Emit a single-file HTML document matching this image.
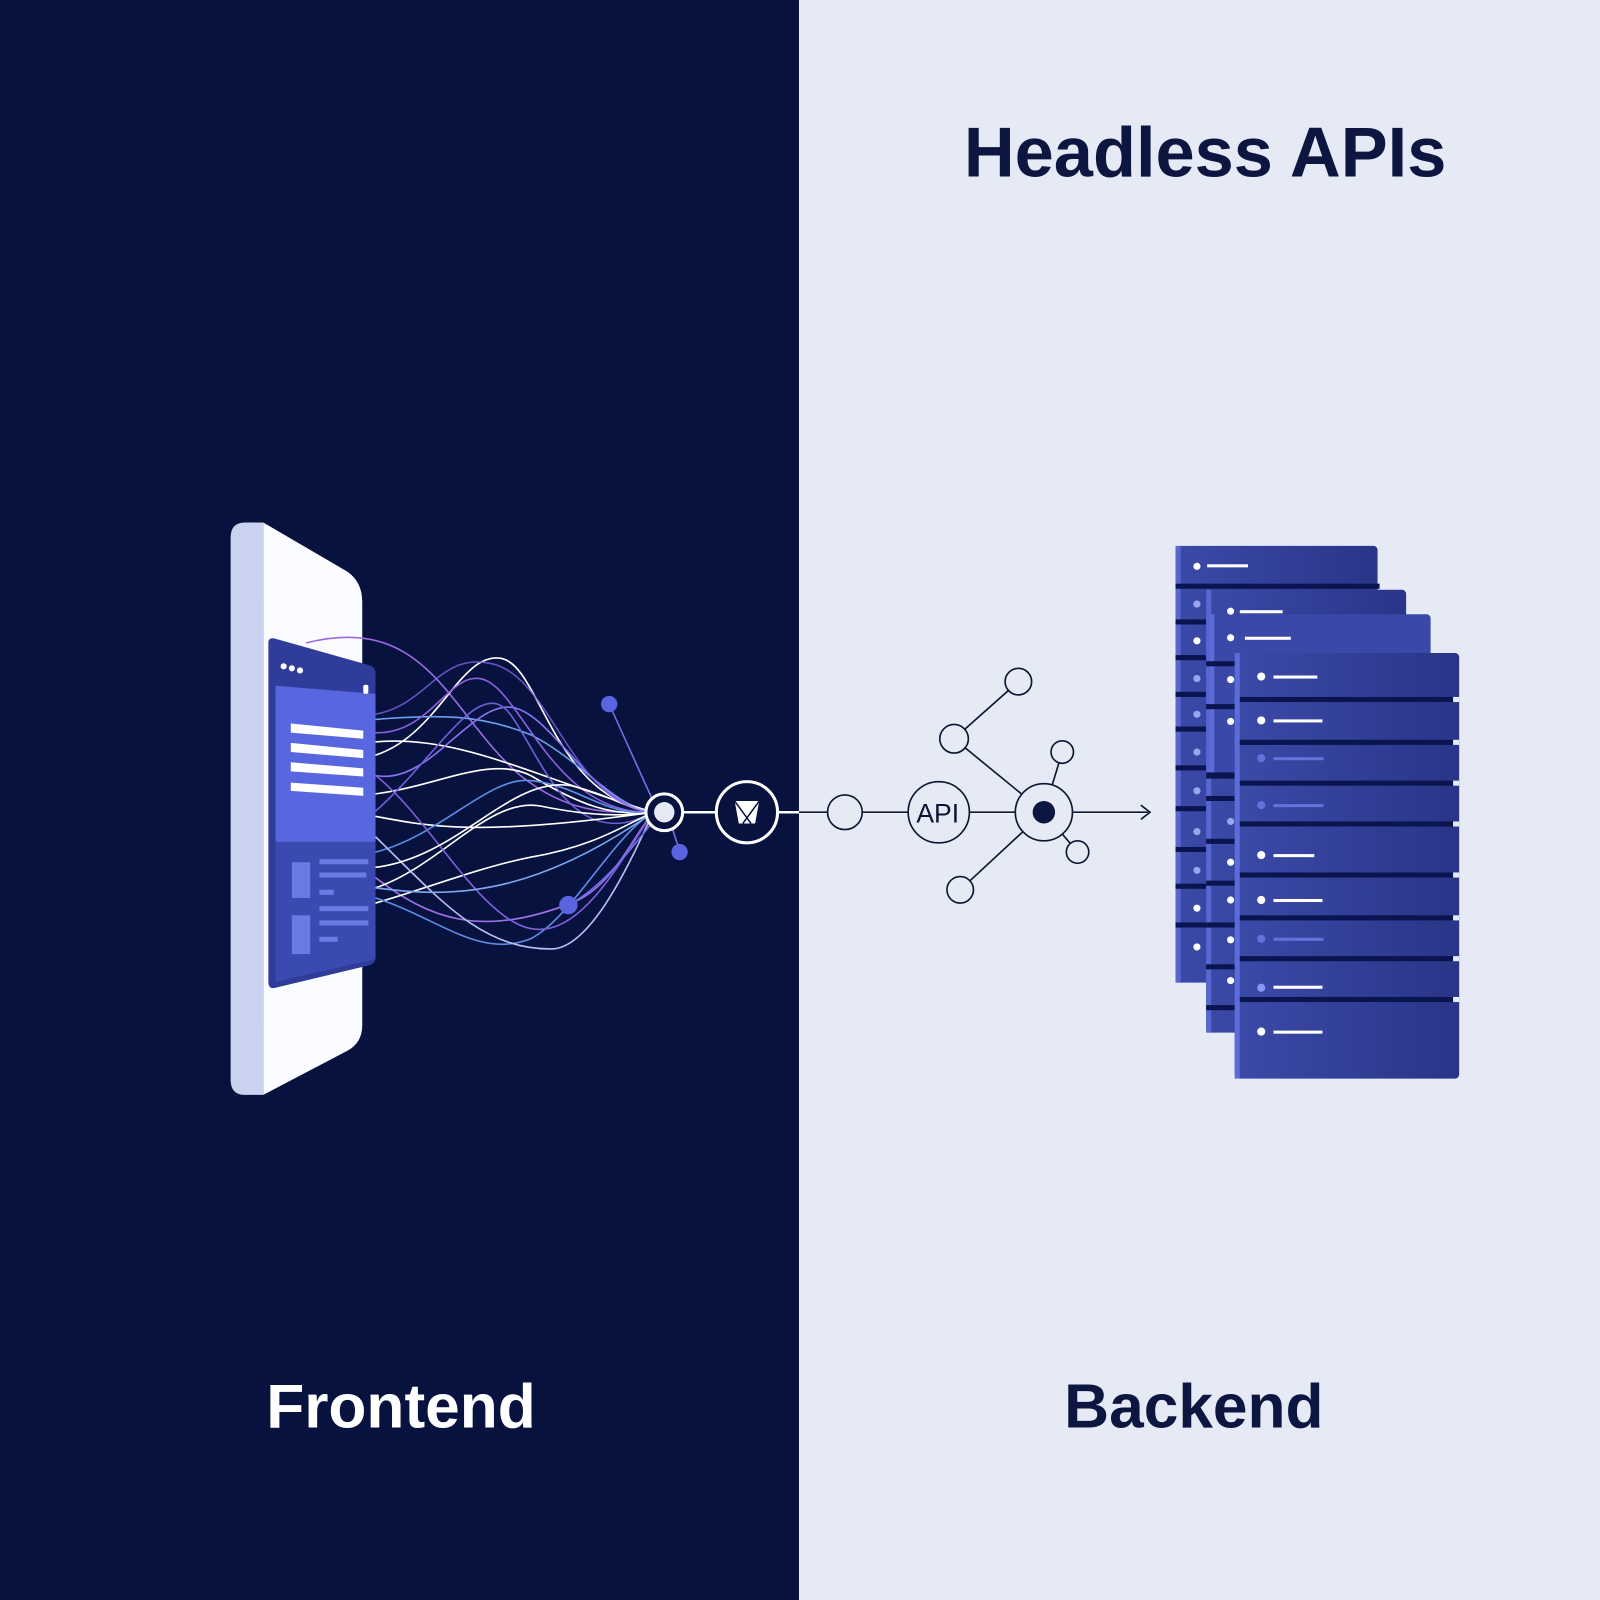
<!DOCTYPE html>
<html><head><meta charset="utf-8"><style>
html,body{margin:0;padding:0;width:1600px;height:1600px;overflow:hidden;background:#e6ebf5}
svg{display:block}
</style></head><body>
<svg width="1600" height="1600" viewBox="0 0 1568 1568" xmlns="http://www.w3.org/2000/svg">
<rect x="0" y="0" width="783" height="1568" fill="#07123f"/>
<rect x="783" y="0" width="785" height="1568" fill="#e5eaf5"/>
<text x="1181" y="173" text-anchor="middle" font-family="Liberation Sans, sans-serif" font-weight="bold" font-size="69" fill="#0d1640">Headless APIs</text>
<text x="393" y="1399" text-anchor="middle" font-family="Liberation Sans, sans-serif" font-weight="bold" font-size="61" fill="#ffffff">Frontend</text>
<text x="1170" y="1399" text-anchor="middle" font-family="Liberation Sans, sans-serif" font-weight="bold" font-size="61" fill="#0d1640">Backend</text>

<!-- phone -->
<path d="M240 512 L258 512 L258 1073 L240 1073 Q226 1073 226 1058 L226 527 Q226 512 240 512Z" fill="#c9d2ee"/>
<path d="M258 512 L340 560 Q355 570 355 590 L355 1005 Q355 1022 340 1030 L258 1073Z" fill="#fbfcff"/>
<path d="M263 630 Q263 624 270 626 L362 652 Q368 654 368 660 L368 938 Q368 944 362 946 L270 968 Q263 970 263 962Z" fill="#2f3c99"/>
<path d="M270 672 L368 680 L368 825 L270 825Z" fill="#5867df"/>
<path d="M270 825 L368 825 L368 940 L270 962Z" fill="#3b4ab0"/>
<circle cx="278" cy="653" r="3" fill="#fff"/><circle cx="286" cy="655" r="3" fill="#fff"/><circle cx="294" cy="657" r="3" fill="#fff"/>
<rect x="356" y="671" width="5" height="9" rx="2" fill="#fff"/>
<g fill="#fff"><path d="M285 709 L356 716 L356 724 L285 718Z"/><path d="M285 728 L356 735 L356 743 L285 737Z"/><path d="M285 747 L356 753 L356 761 L285 756Z"/><path d="M285 767 L356 772 L356 780 L285 775Z"/></g>
<g fill="#6b7be6"><rect x="286" y="845" width="18" height="35"/><rect x="286" y="897" width="18" height="38"/>
<rect x="313" y="842" width="48" height="5"/><rect x="313" y="855" width="46" height="5"/><rect x="313" y="872" width="14" height="5"/>
<rect x="313" y="888" width="48" height="5"/><rect x="313" y="902" width="48" height="5"/><rect x="313" y="918" width="18" height="5"/></g>

<g fill="none" stroke-width="1.6">
<path d="M300 630 C420 600 440 700 510 760 C560 800 600 796 640 796" stroke="#9a6be0"/>
<path d="M368 740 C430 720 450 640 490 645 C530 650 540 780 640 796" stroke="#ffffff"/>
<path d="M368 705 C430 700 470 700 520 720 C570 745 600 790 640 796" stroke="#6aa0ee"/>
<path d="M368 718 C420 720 440 660 470 665 C510 670 540 800 640 796" stroke="#8a5fe0"/>
<path d="M368 727 C450 720 520 760 640 796" stroke="#ffffff"/>
<path d="M368 760 C420 770 460 690 500 693 C540 696 580 790 640 796" stroke="#8a72f0"/>
<path d="M368 778 C430 770 480 740 520 760 C570 790 600 800 640 796" stroke="#ffffff"/>
<path d="M368 795 C430 740 470 660 500 700 C530 740 560 840 640 796" stroke="#6e5fd8"/>
<path d="M368 800 C420 810 470 820 640 796" stroke="#ffffff"/>
<path d="M368 835 C430 820 480 760 520 765 C570 770 590 800 640 796" stroke="#5c90e8"/>
<path d="M368 860 C420 900 470 920 560 885 C600 870 620 820 640 796" stroke="#a070e8"/>
<path d="M368 870 C430 850 480 780 530 790 C580 800 610 800 640 796" stroke="#ffffff"/>
<path d="M368 885 C420 870 470 850 520 840 C580 830 610 810 640 796" stroke="#ffffff"/>
<path d="M368 880 C430 900 470 940 520 920 C560 900 600 820 640 796" stroke="#5f8ae8"/>
<path d="M368 760 C420 800 470 900 520 910 C570 920 610 840 640 796" stroke="#7e5fd8"/>
<path d="M368 820 C430 880 470 930 540 930 C580 930 620 840 640 796" stroke="#b8c0f5"/>
<path d="M368 850 C450 840 500 760 560 770 C600 780 620 795 640 796" stroke="#ffffff"/>
<path d="M368 870 C440 880 520 880 640 796" stroke="#7fa8f0"/>
<path d="M368 700 C420 690 430 640 480 650 C540 660 560 790 640 796" stroke="#7a60e0" opacity=".8"/>
<path d="M597 690 L640 785" stroke="#6a70e6"/>
<path d="M557 887 C590 870 620 830 640 805" stroke="#6a70e6"/>
<path d="M659 812 L666 834" stroke="#6a70e6"/>
</g>
<circle cx="597" cy="690" r="8" fill="#5a63e0"/>
<circle cx="557" cy="887" r="9" fill="#5a63e0"/>
<circle cx="666" cy="835" r="8" fill="#5a63e0"/>

<line x1="669" y1="796" x2="1125" y2="796" stroke="#ffffff" stroke-width="2.5"/>
<line x1="783" y1="796" x2="1125" y2="796" stroke="#0d1430" stroke-width="1.6"/>
<path d="M1118 789 L1127 796 L1118 803" fill="none" stroke="#0d1430" stroke-width="1.6"/>
<circle cx="651" cy="796" r="18" fill="#07123f" stroke="#fff" stroke-width="3"/>
<circle cx="651" cy="796" r="10" fill="#e5eaf5"/>
<circle cx="732" cy="796" r="30" fill="#07123f" stroke="#fff" stroke-width="3"/>
<path d="M720 785 L744 785 L740 807 L724 807Z" fill="#fff"/>
<path d="M720 785 L736 807 M744 785 L728 807" stroke="#07123f" stroke-width="1.5"/>
<g fill="#e5eaf5" stroke="#0d1430" stroke-width="1.6">
<line x1="935" y1="724" x2="998" y2="668"/>
<line x1="935" y1="724" x2="1023" y2="796"/>
<line x1="1023" y1="796" x2="1041" y2="737"/>
<line x1="1023" y1="796" x2="1056" y2="835"/>
<line x1="1023" y1="796" x2="941" y2="872"/>
<circle cx="828" cy="796" r="17"/>
<circle cx="920" cy="796" r="30"/>
<circle cx="1023" cy="796" r="28"/>
<circle cx="935" cy="724" r="14"/>
<circle cx="998" cy="668" r="13"/>
<circle cx="1041" cy="737" r="11"/>
<circle cx="1056" cy="835" r="11"/>
<circle cx="941" cy="872" r="13"/>
</g>
<circle cx="1023" cy="796" r="11" fill="#0d1640"/>
<text x="919" y="806" text-anchor="middle" font-family="Liberation Sans, sans-serif" font-size="26" fill="#0d1430">API</text>

<defs>
<linearGradient id="sg" x1="0" y1="0" x2="1" y2="0"><stop offset="0" stop-color="#3b4aa8"/><stop offset="1" stop-color="#2a3588"/></linearGradient>
</defs>
<g>
<rect x="1152" y="535" width="198" height="428" rx="4" fill="url(#sg)"/>
<rect x="1152" y="535" width="5" height="428" fill="#5866d0"/>
<g fill="#0a1550"><rect x="1152" y="572" width="200" height="5"/><rect x="1152" y="607" width="200" height="5"/><rect x="1152" y="642" width="200" height="5"/><rect x="1152" y="678" width="200" height="5"/><rect x="1152" y="712" width="200" height="5"/><rect x="1152" y="750" width="200" height="5"/><rect x="1152" y="790" width="200" height="5"/><rect x="1152" y="830" width="200" height="5"/><rect x="1152" y="866" width="200" height="5"/><rect x="1152" y="904" width="200" height="5"/></g>
<circle cx="1173" cy="555" r="3.5" fill="#fff"/><rect x="1183" y="553" width="40" height="3" fill="#fff"/>
<g fill="#9aa5ee"><circle cx="1173" cy="592" r="3.5"/><circle cx="1173" cy="628" r="3.5" fill="#fff"/><circle cx="1173" cy="665" r="3.5"/><circle cx="1173" cy="700" r="3.5"/><circle cx="1173" cy="737" r="3.5"/><circle cx="1173" cy="775" r="3.5"/><circle cx="1173" cy="815" r="3.5"/><circle cx="1173" cy="853" r="3.5"/><circle cx="1173" cy="890" r="3.5" fill="#fff"/><circle cx="1173" cy="928" r="3.5" fill="#fff"/></g>

<rect x="1182" y="578" width="196" height="434" rx="4" fill="url(#sg)"/>
<rect x="1182" y="578" width="5" height="434" fill="#5866d0"/>
<rect x="1185" y="602" width="217" height="155" rx="4" fill="#3a49a8"/>
<rect x="1185" y="602" width="5" height="155" fill="#5d6cd8"/>
<g fill="#0a1550"><rect x="1182" y="648" width="30" height="5"/><rect x="1182" y="690" width="30" height="5"/><rect x="1182" y="757" width="30" height="6"/><rect x="1182" y="780" width="30" height="5"/><rect x="1182" y="822" width="30" height="5"/><rect x="1182" y="863" width="30" height="5"/><rect x="1182" y="904" width="30" height="5"/><rect x="1182" y="945" width="30" height="5"/><rect x="1182" y="985" width="30" height="5"/></g>
<circle cx="1206" cy="599" r="3.5" fill="#fff"/><rect x="1215" y="598" width="42" height="3" fill="#fff"/>
<circle cx="1206" cy="625" r="3.5" fill="#fff"/><rect x="1220" y="624" width="45" height="3" fill="#fff"/>
<g fill="#fff"><circle cx="1206" cy="666" r="3.5"/><circle cx="1206" cy="707" r="3.5"/><circle cx="1206" cy="805" r="3.5" fill="#9aa5ee"/><circle cx="1206" cy="845" r="3.5"/><circle cx="1206" cy="882" r="3.5"/><circle cx="1206" cy="921" r="3.5"/><circle cx="1206" cy="961" r="3.5"/></g>

<rect x="1210" y="640" width="220" height="417" rx="4" fill="url(#sg)"/>
<rect x="1210" y="640" width="5" height="417" fill="#5d6cd8"/>
<g fill="#0a1550"><rect x="1215" y="683" width="212" height="5"/><rect x="1215" y="725" width="212" height="5"/><rect x="1215" y="765" width="212" height="5"/><rect x="1215" y="805" width="212" height="5"/><rect x="1215" y="855" width="212" height="5"/><rect x="1215" y="897" width="212" height="5"/><rect x="1215" y="937" width="212" height="5"/><rect x="1215" y="977" width="212" height="5"/></g>
<g fill="#e5eaf5"><rect x="1424" y="683" width="6" height="5"/><rect x="1424" y="725" width="6" height="5"/><rect x="1424" y="765" width="6" height="5"/><rect x="1424" y="805" width="6" height="5"/><rect x="1424" y="855" width="6" height="5"/><rect x="1424" y="897" width="6" height="5"/><rect x="1424" y="937" width="6" height="5"/><rect x="1424" y="977" width="6" height="5"/></g>
<g fill="#fff">
<circle cx="1236" cy="663" r="4"/><rect x="1248" y="662" width="43" height="3"/>
<circle cx="1236" cy="706" r="4"/><rect x="1248" y="705" width="48" height="3"/>
<circle cx="1236" cy="838" r="4"/><rect x="1248" y="837" width="40" height="3"/>
<circle cx="1236" cy="882" r="4"/><rect x="1248" y="881" width="48" height="3"/>
<circle cx="1236" cy="1011" r="4"/><rect x="1248" y="1010" width="48" height="3"/>
<rect x="1248" y="966" width="48" height="3"/>
</g>
<g fill="#6472dc">
<circle cx="1236" cy="743" r="4"/><rect x="1248" y="742" width="49" height="3"/>
<circle cx="1236" cy="789" r="4"/><rect x="1248" y="788" width="49" height="3"/>
<circle cx="1236" cy="920" r="4"/><rect x="1248" y="919" width="49" height="3"/>
<circle cx="1236" cy="968" r="4" fill="#8a96f0"/>
</g>
</g>
</svg>
</body></html>
